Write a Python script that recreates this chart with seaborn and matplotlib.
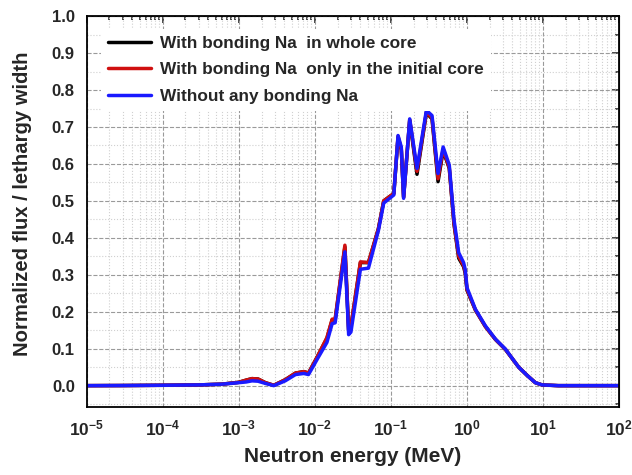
import matplotlib
matplotlib.use("Agg")
import matplotlib.pyplot as plt
import matplotlib.ticker as mticker
import numpy as np
import pandas as pd
import seaborn as sns

# energy grid (MeV)
energy = [1e-5, 3e-5, 1e-4, 3e-4, 6e-4, 1.0e-3, 1.26e-3, 1.5e-3, 1.8e-3, 2.25e-3,
          2.9e-3, 4.1e-3, 5.6e-3, 7.2e-3, 8.3e-3, 1.07e-2, 1.45e-2, 1.7e-2,
          1.86e-2, 2.5e-2, 2.8e-2, 3.0e-2, 4.0e-2, 5.1e-2, 6.9e-2, 8.1e-2,
          0.11, 0.125, 0.138, 0.148, 0.178, 0.222, 0.295, 0.35, 0.42, 0.49,
          0.59, 0.68, 0.785, 0.91, 0.955, 1.01, 1.3, 1.76, 2.39, 3.23, 4.83,
          6.22, 8.0, 9.8, 16.0, 100.0]

flux_blue = [0.0, 0.0003, 0.001, 0.002, 0.004, 0.008, 0.010, 0.013, 0.012, 0.006,
             0.0, 0.013, 0.030, 0.033, 0.030, 0.070, 0.117, 0.168,
             0.170, 0.362, 0.138, 0.145, 0.315, 0.318, 0.42, 0.494,
             0.516, 0.677, 0.646, 0.507, 0.722, 0.588, 0.745, 0.731, 0.574, 0.646,
             0.597, 0.45, 0.36, 0.333, 0.315, 0.265, 0.207, 0.162, 0.126, 0.099, 0.05,
             0.028, 0.008, 0.002, 0.0, 0.0]

flux_red = [0.0, 0.0003, 0.001, 0.002, 0.004, 0.009, 0.015, 0.019, 0.018, 0.008,
            0.001, 0.016, 0.034, 0.038, 0.034, 0.076, 0.130, 0.180,
            0.180, 0.380, 0.150, 0.160, 0.335, 0.333, 0.425, 0.500,
            0.520, 0.675, 0.640, 0.510, 0.720, 0.580, 0.740, 0.725, 0.560, 0.640,
            0.590, 0.44, 0.35, 0.325, 0.31, 0.26, 0.205, 0.160, 0.125, 0.098, 0.05,
            0.028, 0.008, 0.002, 0.0, 0.0]

flux_black = [0.0, 0.0003, 0.001, 0.002, 0.004, 0.009, 0.015, 0.019, 0.018, 0.008,
              0.001, 0.016, 0.034, 0.038, 0.034, 0.076, 0.128, 0.178,
              0.178, 0.375, 0.150, 0.160, 0.333, 0.333, 0.425, 0.500,
              0.520, 0.672, 0.638, 0.510, 0.718, 0.572, 0.738, 0.722, 0.552, 0.636,
              0.588, 0.438, 0.345, 0.322, 0.305, 0.258, 0.205, 0.160, 0.125, 0.098, 0.05,
              0.028, 0.008, 0.002, 0.0, 0.0]

labels = ["With bonding Na  in whole core",
          "With bonding Na  only in the initial core",
          "Without any bonding Na"]
colors = ["#000000", "#d01010", "#1a1aff"]

df = pd.concat([
    pd.DataFrame({"energy": energy, "flux": flux_black, "case": labels[0]}),
    pd.DataFrame({"energy": energy, "flux": flux_red, "case": labels[1]}),
    pd.DataFrame({"energy": energy, "flux": flux_blue, "case": labels[2]}),
])

sns.set_style("white")
plt.rcParams["font.family"] = ["Liberation Sans", "DejaVu Sans"]
plt.rcParams["font.weight"] = "bold"
plt.rcParams["mathtext.fontset"] = "custom"
plt.rcParams["mathtext.bf"] = "Liberation Sans:bold"
plt.rcParams["mathtext.rm"] = "Liberation Sans:bold"

fig = plt.figure(figsize=(6.32, 4.75), dpi=100)
ax = fig.add_axes([0.137, 0.143, 0.842, 0.823])

sns.lineplot(data=df, x="energy", y="flux", hue="case", hue_order=labels,
             palette=colors, linewidth=2.5, ax=ax, sort=False)

ax.set_xscale("log")
ax.set_xlim(1e-5, 1e2)
ax.set_ylim(-0.058, 1.0)

ax.xaxis.set_major_locator(mticker.LogLocator(base=10, numticks=20))
ax.xaxis.set_minor_locator(mticker.LogLocator(base=10, subs=np.arange(2, 10), numticks=20))
ax.xaxis.set_minor_formatter(mticker.NullFormatter())
ax.xaxis.set_major_formatter(mticker.FuncFormatter(
    lambda v, p: r"$\mathbf{10^{%d}}$" % int(round(np.log10(v)))))
ax.yaxis.set_major_locator(mticker.MultipleLocator(0.1))
ax.yaxis.set_minor_locator(mticker.MultipleLocator(0.05))
ax.yaxis.set_major_formatter(mticker.FormatStrFormatter("%.1f"))

ax.grid(which="major", color="#9a9a9a", linestyle="--", linewidth=0.8)
ax.grid(which="minor", color="#d0d0d0", linestyle=":", linewidth=0.8)

ax.tick_params(which="major", direction="out", length=5, width=1.2, labelsize=12.5)
ax.tick_params(which="minor", direction="out", length=3, width=1.0)
ax.tick_params(axis="y", labelsize=12)
for s in ax.spines.values():
    s.set_linewidth(1.3)
    s.set_color("black")

# inward ticks on the top and right spines
top = ax.secondary_xaxis("top")
top.xaxis.set_major_locator(mticker.LogLocator(base=10, numticks=20))
top.xaxis.set_minor_locator(mticker.LogLocator(base=10, subs=np.arange(2, 10), numticks=20))
top.xaxis.set_major_formatter(mticker.NullFormatter())
top.xaxis.set_minor_formatter(mticker.NullFormatter())
top.tick_params(which="both", direction="in", labeltop=False, width=1.2)
top.tick_params(which="major", length=5)
top.tick_params(which="minor", length=3)
right = ax.secondary_yaxis("right")
right.yaxis.set_major_locator(mticker.MultipleLocator(0.1))
right.yaxis.set_minor_locator(mticker.MultipleLocator(0.05))
right.yaxis.set_major_formatter(mticker.NullFormatter())
right.tick_params(which="both", direction="in", labelright=False, width=1.2)
right.tick_params(which="major", length=5)
right.tick_params(which="minor", length=3)

ax.set_xlabel("Neutron energy (MeV)", fontsize=15, fontweight="bold", labelpad=6)
ax.set_ylabel("Normalized flux / lethargy width", fontsize=14.6, fontweight="bold")
ax.yaxis.set_label_coords(-0.102, 0.52)

leg = ax.legend(loc="upper left", bbox_to_anchor=(0.028, 0.967), borderaxespad=0,
                frameon=True, fontsize=12.4, handlelength=2.5, borderpad=0.4,
                labelspacing=0.66, handletextpad=0.5)
leg.get_frame().set_edgecolor("none")
leg.get_frame().set_facecolor("white")
leg.get_frame().set_alpha(1.0)
leg.get_frame().set_boxstyle("square", pad=0)
for t in leg.get_texts():
    t.set_fontweight("bold")
for h in leg.get_lines():
    h.set_linewidth(2.5)

fig.savefig("out.png", dpi=100)
